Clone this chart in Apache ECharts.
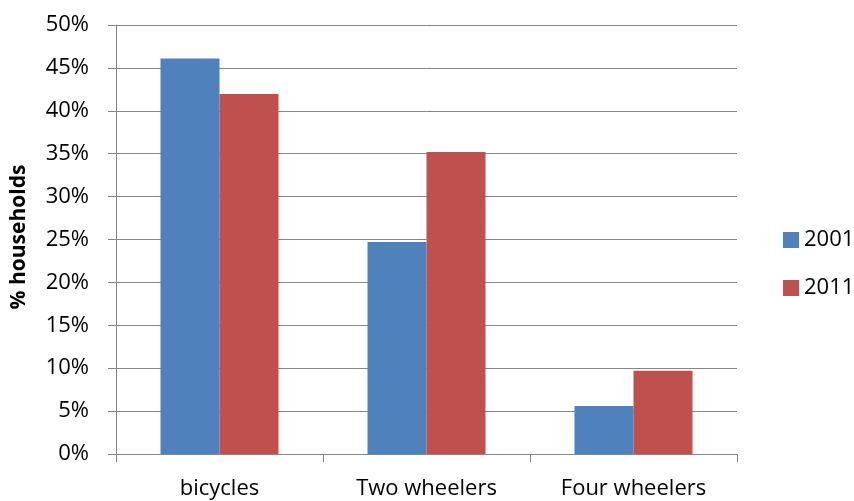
<!DOCTYPE html>
<html>
<head>
<meta charset="utf-8">
<script src="https://cdn.jsdelivr.net/npm/echarts@6/dist/echarts.min.js"></script>
<style>html,body{margin:0;padding:0;background:#fff}#c{width:854px;height:501px}</style>
</head>
<body>
<div id="c"></div>
<script>
var categories = ['bicycles', 'Two wheelers', 'Four wheelers'];
var series2001 = [46.1, 24.7, 5.6];
var series2011 = [41.95, 35.2, 9.7];
var yTicks = [0, 5, 10, 15, 20, 25, 30, 35, 40, 45, 50];

var chart = echarts.init(document.getElementById('c'));
var font = 'Open Sans';
chart.setOption({
  animation: false,
  textStyle: { fontFamily: font },
  grid: { left: 116, right: 117, top: 25, bottom: 47, containLabel: false, outerBoundsMode: 'none' },
  legend: {
    orient: 'vertical', left: 778, top: 224,
    itemWidth: 16, itemHeight: 16, itemGap: 26,
    icon: 'rect',
    textStyle: { fontSize: 22, color: '#000', fontFamily: font },
    data: ['2001', '2011']
  },
  xAxis: {
    type: 'category', data: categories,
    axisLine: { lineStyle: { color: '#868686', width: 1 } },
    axisTick: { show: true, length: 8, lineStyle: { color: '#868686' } },
    axisLabel: { fontSize: 22, color: '#000', margin: 24, fontFamily: font }
  },
  yAxis: {
    type: 'value', min: yTicks[0], max: yTicks[yTicks.length - 1], interval: 5,
    name: '% households', nameLocation: 'middle', nameGap: 86, nameRotate: 90,
    nameTextStyle: { fontSize: 21, fontWeight: 'bold', color: '#000', fontFamily: font, padding: [0, 0, 0, 5] },
    axisLine: { show: true, lineStyle: { color: '#868686' } },
    axisTick: { show: true, length: 8, lineStyle: { color: '#868686' } },
    axisLabel: { fontSize: 22, color: '#000', margin: 27, formatter: '{value}%', fontFamily: font },
    splitLine: { lineStyle: { color: '#868686', width: 1 } }
  },
  series: [
    { name: '2001', type: 'bar', data: series2001, barGap: '0%', barCategoryGap: '43%',
      itemStyle: { color: '#4F81BD' } },
    { name: '2011', type: 'bar', data: series2011, barGap: '0%', barCategoryGap: '43%',
      itemStyle: { color: '#C0504D' } }
  ]
});
</script>
</body>
</html>
